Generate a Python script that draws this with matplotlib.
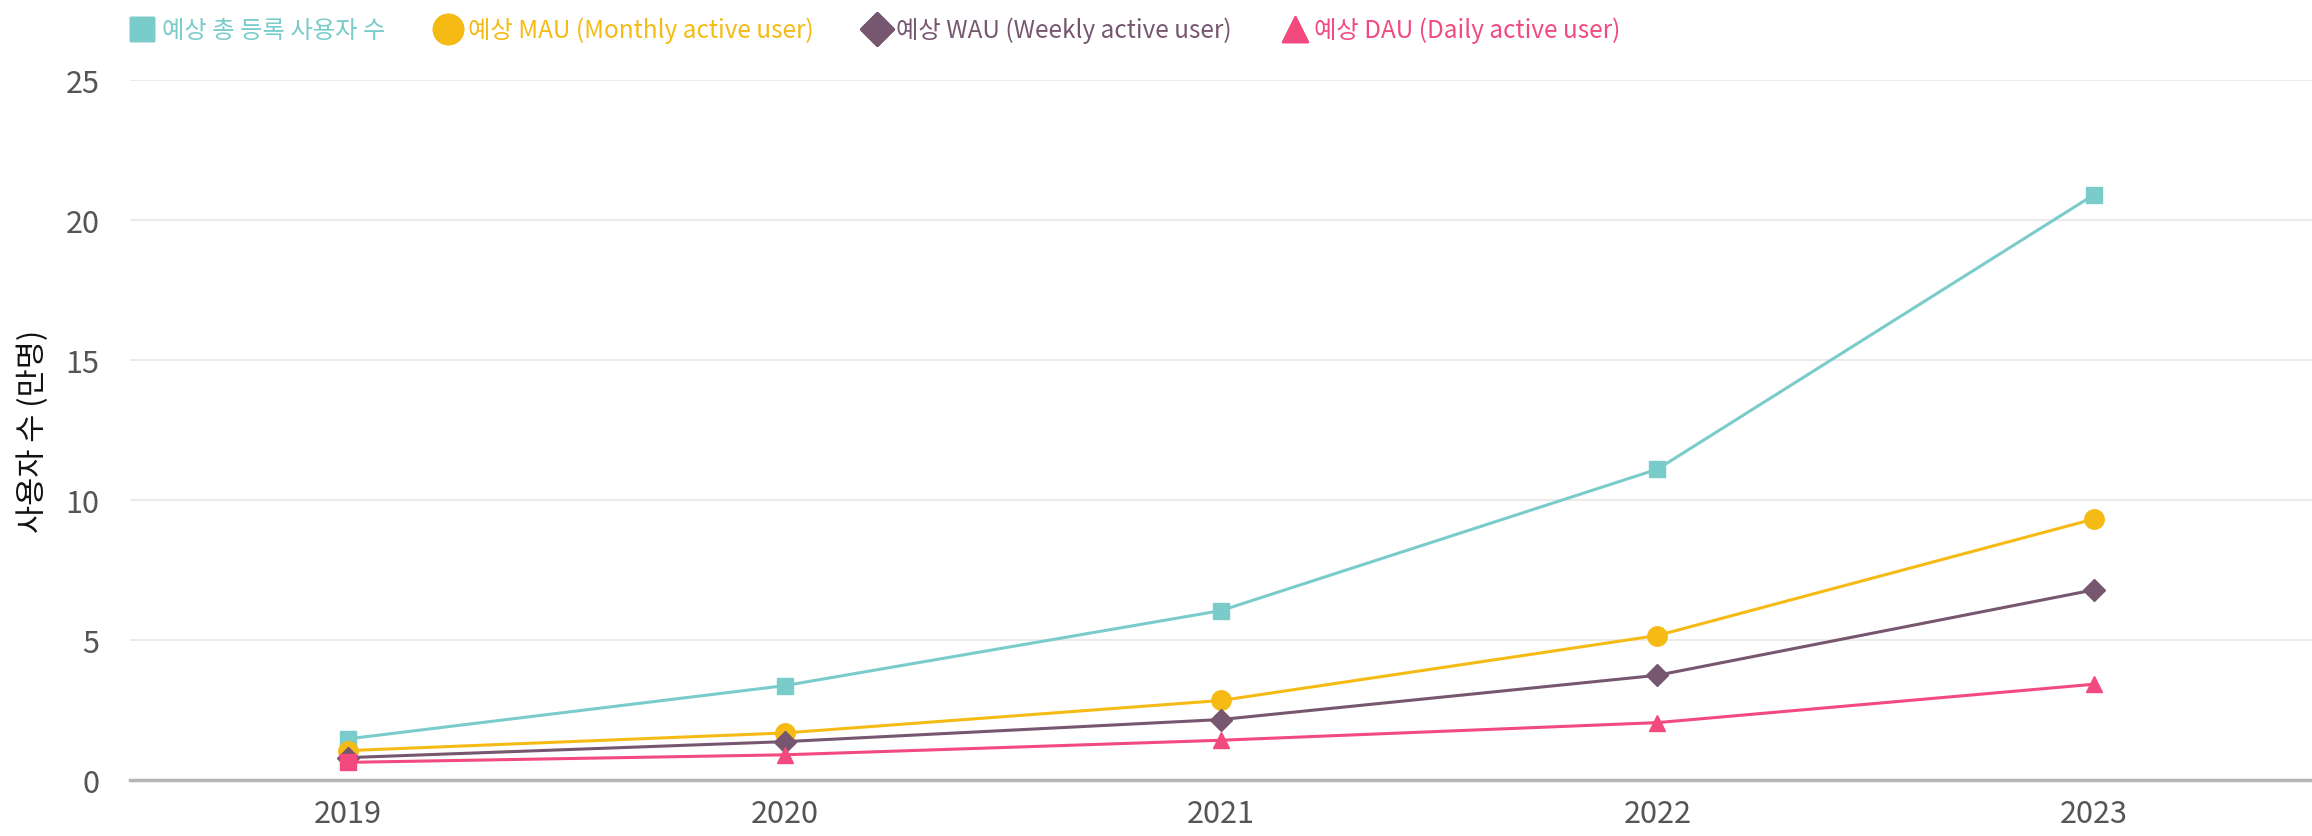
import matplotlib
matplotlib.use("Agg")
import matplotlib.pyplot as plt
import numpy as np

plt.rcParams['font.family'] = ['Noto Sans CJK KR', 'DejaVu Sans']

# 데이터 (단위: 만명)
years = ['2019', '2020', '2021', '2022', '2023']
total_users = [1.47, 3.37, 6.05, 11.1, 20.9]
mau = [1.05, 1.68, 2.84, 5.16, 9.32]
wau = [0.8, 1.37, 2.16, 3.74, 6.79]
dau = [0.63, 0.9, 1.42, 2.05, 3.42]

labels = ['예상 총 등록 사용자 수', '예상 MAU (Monthly active user)',
          '예상 WAU (Weekly active user)', '예상 DAU (Daily active user)']
colors = ['#7ACCCB', '#F5BB14', '#775770', '#F24A7E']

fig = plt.figure(figsize=(23.12, 8.37), dpi=100)
ax = fig.add_axes([0.0562, 0.0669, 0.9438, 0.8363])

x = np.arange(len(years))
ax.plot(x, total_users, color=colors[0], lw=2.2, marker='s', ms=11, label=labels[0])
ax.plot(x, mau, color=colors[1], lw=2.2, marker='o', ms=14, label=labels[1])
ax.plot(x, wau, color=colors[2], lw=2.2, marker='D', ms=11, label=labels[2])
ax.plot(x, dau, color=colors[3], lw=2.2, marker='^', ms=12, markevery=[1, 2, 3, 4],
        label=labels[3])
# 2019 DAU 점은 원본에서 사각형으로 보임
ax.plot(x[:1], dau[:1], color=colors[3], ls='none', marker='s', ms=11)

ax.set_xlim(-0.5, 4.5)
ax.set_ylim(0, 25)
ax.set_xticks(x)
ax.set_xticklabels(years)
ax.set_yticks([0, 5, 10, 15, 20, 25])
ax.tick_params(axis='both', length=0, labelsize=22, labelcolor='#555555')
ax.tick_params(axis='x', pad=13)
ax.tick_params(axis='y', pad=22)

ax.grid(axis='y', color='#EBEBEB', lw=1.5)
ax.set_axisbelow(True)
for s in ['top', 'right', 'left']:
    ax.spines[s].set_visible(False)
ax.spines['bottom'].set_color('#B5B5B5')
ax.spines['bottom'].set_linewidth(2.5)

ax.set_ylabel('사용자 수 (만명)', fontsize=22, color='#111111', labelpad=12)

leg = fig.legend(loc='upper left', bbox_to_anchor=(0.052, 1.005), ncol=4,
                 frameon=False, fontsize=17.5, labelcolor='linecolor',
                 handlelength=0, handletextpad=0.8, columnspacing=2.6,
                 markerscale=1.55)
for h in leg.legend_handles:
    h.set_linestyle('none')
    h.set_markevery(None)

fig.savefig('out.png', dpi=100)
